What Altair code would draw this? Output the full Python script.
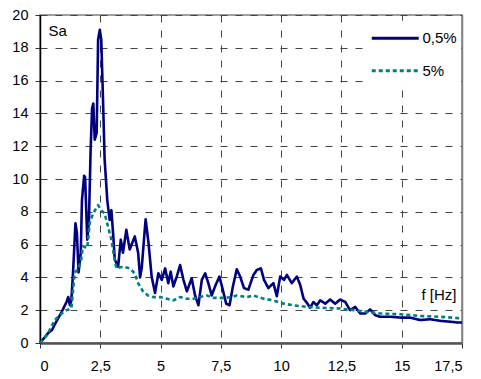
import altair as alt
import pandas as pd

# Series 0,5% damping (blue) – frequency [Hz] and Sa
f_05 = [0, 0.2, 0.33, 0.5, 0.6, 0.75, 0.9, 1.0, 1.1, 1.17, 1.24, 1.3, 1.37, 1.47, 1.53, 1.6,
        1.69, 1.74, 1.83, 1.87, 1.96, 2.03, 2.1, 2.16, 2.21, 2.27, 2.35, 2.41, 2.48, 2.54,
        2.61, 2.68, 2.79, 2.89, 2.96, 3.03, 3.1, 3.24, 3.35, 3.44, 3.58, 3.72, 3.85, 3.93,
        4.07, 4.15, 4.22, 4.29, 4.38, 4.5, 4.63, 4.77, 4.91, 5.05, 5.19, 5.32, 5.42, 5.53,
        5.67, 5.81, 5.95, 6.09, 6.29, 6.43, 6.57, 6.71, 6.85, 6.98, 7.12, 7.26, 7.44, 7.58,
        7.72, 7.86, 8.0, 8.16, 8.3, 8.46, 8.64, 8.85, 8.99, 9.16, 9.29, 9.47, 9.68, 9.82,
        9.96, 10.12, 10.24, 10.44, 10.65, 10.79, 10.93, 11.07, 11.2, 11.34, 11.48, 11.62,
        11.83, 12.03, 12.24, 12.45, 12.66, 12.86, 13.07, 13.28, 13.49, 13.69, 13.9, 14.1,
        14.52, 14.94, 15.35, 15.77, 16.18, 16.6, 17.01, 17.3, 17.5]
sa_05 = [0, 0.35, 0.6, 0.8, 1.1, 1.5, 1.9, 2.2, 2.5, 2.8, 2.3, 2.6, 4.3, 7.3, 6.7, 4.3,
         5.5, 8.7, 10.2, 10.1, 6.3, 7.5, 11.8, 14.3, 14.6, 12.4, 12.8, 18.5, 19.1, 18.5,
         15.0, 11.2, 8.7, 7.5, 8.1, 6.7, 5.1, 4.65, 6.3, 5.5, 6.9, 5.7, 6.2, 6.5,
         5.5, 4.0, 4.6, 5.9, 7.55, 6.1, 4.05, 3.05, 4.25, 3.85, 4.55, 3.65, 4.35, 3.45,
         4.05, 4.75, 3.85, 3.15, 3.95, 2.9, 2.3, 3.85, 4.25, 3.65, 2.9, 3.45, 4.05, 3.25,
         2.4, 2.3, 3.45, 4.5, 4.05, 3.35, 3.25, 4.15, 4.45, 4.55, 3.85, 3.35, 3.65, 2.85,
         4.05, 3.85, 4.15, 3.65, 4.05, 3.55, 2.7, 2.45, 2.15, 2.5, 2.3, 2.6,
         2.4, 2.65, 2.4, 2.65, 2.5, 2.0, 2.2, 1.8, 1.8, 2.05, 1.7, 1.6,
         1.6, 1.55, 1.55, 1.4, 1.45, 1.35, 1.3, 1.25, 1.25]

# Series 5% damping (teal)
f_5 = [0, 0.3, 0.61, 0.9, 1.09, 1.3, 1.44, 1.58, 1.7, 1.78, 1.96, 2.06, 2.2, 2.41, 2.54,
       2.68, 2.82, 2.96, 3.07, 3.17, 3.44, 3.72, 3.93, 4.07, 4.27, 4.48, 4.7, 4.98, 5.26,
       5.53, 5.81, 6.09, 6.36, 6.64, 6.92, 7.19, 7.61, 7.95, 8.16, 8.57, 8.85, 9.27, 9.68,
       10.1, 10.51, 11.07, 11.62, 12.45, 13.28, 14.1, 14.94, 15.77, 16.6, 17.5]
sa_5 = [0, 0.5, 1.4, 1.8, 2.0, 2.1, 4.3, 4.5, 5.0, 5.9, 5.8, 7.3, 7.9, 8.4, 8.1,
        7.9, 7.1, 6.3, 5.3, 4.55, 4.65, 4.55, 4.25, 3.65, 3.15, 2.9, 2.8, 2.8, 2.7,
        2.6, 2.8, 2.7, 2.7, 2.8, 2.9, 2.75, 2.75, 2.8, 2.9, 2.8, 2.9, 2.7, 2.6,
        2.4, 2.3, 2.2, 2.15, 2.1, 1.95, 1.8, 1.75, 1.65, 1.6, 1.5]

series_names = ["0,5%", "5%"]
series_colors = ["#000080", "#008080"]
series_dash = [[1, 0], [4, 3]]

x_ticks = [0, 2.5, 5, 7.5, 10, 12.5, 15, 17.5]
y_ticks = [0, 2, 4, 6, 8, 10, 12, 14, 16, 18, 20]

df = pd.concat([
    pd.DataFrame({"f": f_05, "Sa": sa_05, "series": series_names[0]}),
    pd.DataFrame({"f": f_5, "Sa": sa_5, "series": series_names[1]}),
])

FONT = "Liberation Sans"


def make_legend():
    return alt.Legend(title=None, orient="none", legendX=326, legendY=5.75,
                      symbolType="M-1,0H3", symbolSize=552,
                      symbolStrokeWidth=3, rowPadding=10.5,
                      labelOffset=25.5, padding=4,
                      fillColor="white", labelFontSize=15,
                      labelFont=FONT, labelColor="#000000")


x_enc = alt.X("f:Q",
              scale=alt.Scale(domain=[0, 17.5], nice=False, zero=True),
              axis=alt.Axis(values=x_ticks, title="f [Hz]",
                            labelExpr="replace(toString(datum.value), '.', ',')",
                            titleX=416, titleY=-44, titleAlign="right",
                            titleBaseline="alphabetic", titleAngle=0,
                            domainColor="#555555", domainWidth=2.5,
                            tickColor="#333333", tickSize=5, labelPadding=11,
                            gridDash=[7, 8], gridColor="#444444", gridWidth=1))

lines = alt.Chart(df).mark_line(strokeWidth=2.6, strokeJoin="round").encode(
    x=x_enc,
    y=alt.Y("Sa:Q",
            scale=alt.Scale(domain=[0, 20], nice=False),
            axis=alt.Axis(values=y_ticks, title="Sa",
                          titleX=8, titleY=20, titleAlign="left",
                          titleBaseline="alphabetic", titleAngle=0,
                          domainColor="#000000", domainWidth=1.5,
                          tickColor="#333333", tickSize=5, labelPadding=7,
                          gridDash=[7, 8], gridColor="#444444", gridWidth=1)),
    color=alt.Color("series:N",
                    scale=alt.Scale(domain=series_names, range=series_colors),
                    legend=make_legend()),
    strokeDash=alt.StrokeDash("series:N",
                              scale=alt.Scale(domain=series_names, range=series_dash),
                              legend=make_legend()),
    detail="series:N",
)

# invisible layer that only carries the right-hand frame line (drawn above the legend box)
frame = alt.Chart(df).mark_line(opacity=0).encode(
    x=x_enc,
    y=alt.Y("Sa:Q",
            scale=alt.Scale(domain=[0, 20], nice=False),
            axis=alt.Axis(orient="right", labels=False, ticks=False, grid=False,
                          title=None, domainColor="#808080", domainWidth=1.5)),
    detail="series:N",
)

chart = alt.layer(lines, frame).resolve_axis(y="independent").properties(
    width=422,
    height=328,
    background="white",
    autosize=alt.AutoSizeParams(type="none"),
    padding={"left": 32, "top": 7, "right": 11, "bottom": 30},
).configure_view(
    stroke="#808080", strokeWidth=1.5
).configure_axis(
    labelFont=FONT, labelFontSize=14.5, labelColor="#000000",
    titleFont=FONT, titleFontSize=15, titleFontWeight="normal", titleColor="#000000",
)

chart.save("out.html", embed_options={"renderer": "svg", "actions": False})
